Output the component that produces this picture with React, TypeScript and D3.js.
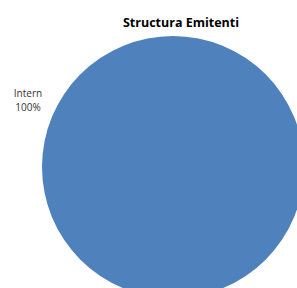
import React from 'react';
import * as d3 from 'd3';

const categories = ['Intern'];
const values = [100];
const colors = ['#4F81BD'];
const chartTitle = 'Structura Emitenti';

const W = 297;
const H = 288;

export default function App() {
	const cx = 173; // pie centre
	const cy = 167;
	const radius = 131;

	const pie = d3.pie<number>().sort(null).startAngle(0).endAngle(2 * Math.PI);
	const arcs = pie(values);
	const arcGen = d3.arc<d3.PieArcDatum<number>>().innerRadius(0).outerRadius(radius);
	const total = d3.sum(values);
	const pct = d3.format('.0%');

	const labelStyle = {
		fontFamily: "'Open Sans', sans-serif",
		fontSize: 10,
		fill: '#333',
	};

	return (
		<div style={{ position: 'fixed', left: 0, top: 0 }}>
			<svg width={W} height={H} style={{ display: 'block', background: '#fff' }}>
				<text
					x={181}
					y={27}
					textAnchor="middle"
					fontFamily="'Open Sans', sans-serif"
					fontWeight="bold"
					fontSize={12.5}
					fill="#000"
				>
					{chartTitle}
				</text>
				<g transform={`translate(${cx},${cy})`}>
					{arcs.map((a, i) => (
						<path key={categories[i]} d={arcGen(a) || ''} fill={colors[i]} />
					))}
				</g>
				{categories.map((c, i) => (
					<g key={c}>
						<text x={28} y={97} textAnchor="middle" style={labelStyle}>
							{c}
						</text>
						<text x={28} y={111} textAnchor="middle" style={labelStyle}>
							{pct(values[i] / total)}
						</text>
					</g>
				))}
			</svg>
		</div>
	);
}
